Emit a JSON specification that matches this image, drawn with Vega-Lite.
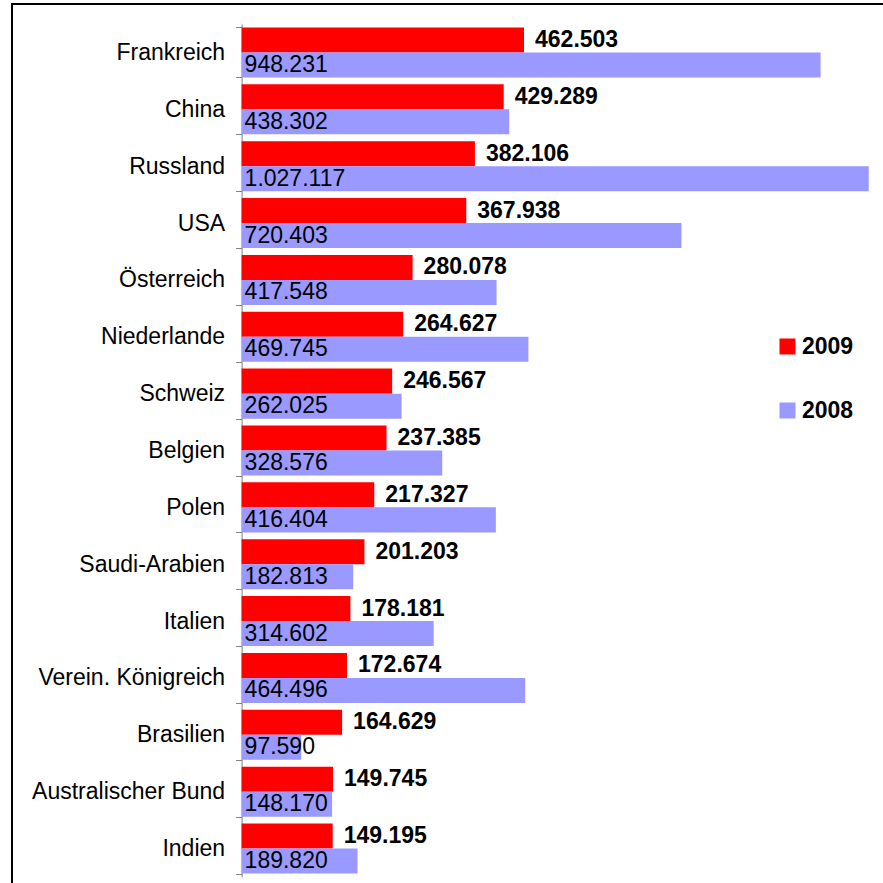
{
  "$schema": "https://vega.github.io/schema/vega-lite/v6.json",
  "width": 880,
  "height": 890,
  "autosize": {"type": "none"},
  "padding": {"left": 12, "top": 4, "right": 0, "bottom": 0},
  "config": {
    "locale": {"number": {"decimal": ",", "thousands": ".", "grouping": [3], "currency": ["", " €"]}},
    "view": {"stroke": "#000000", "strokeWidth": 2},
    "font": "Liberation Sans",
    "text": {"font": "Liberation Sans", "color": "#000000"}
  },
  "data": {
    "values": [
      {"country": "Frankreich", "year": "2009", "value": 462503},
      {"country": "Frankreich", "year": "2008", "value": 948231},
      {"country": "China", "year": "2009", "value": 429289},
      {"country": "China", "year": "2008", "value": 438302},
      {"country": "Russland", "year": "2009", "value": 382106},
      {"country": "Russland", "year": "2008", "value": 1027117},
      {"country": "USA", "year": "2009", "value": 367938},
      {"country": "USA", "year": "2008", "value": 720403},
      {"country": "Österreich", "year": "2009", "value": 280078},
      {"country": "Österreich", "year": "2008", "value": 417548},
      {"country": "Niederlande", "year": "2009", "value": 264627},
      {"country": "Niederlande", "year": "2008", "value": 469745},
      {"country": "Schweiz", "year": "2009", "value": 246567},
      {"country": "Schweiz", "year": "2008", "value": 262025},
      {"country": "Belgien", "year": "2009", "value": 237385},
      {"country": "Belgien", "year": "2008", "value": 328576},
      {"country": "Polen", "year": "2009", "value": 217327},
      {"country": "Polen", "year": "2008", "value": 416404},
      {"country": "Saudi-Arabien", "year": "2009", "value": 201203},
      {"country": "Saudi-Arabien", "year": "2008", "value": 182813},
      {"country": "Italien", "year": "2009", "value": 178181},
      {"country": "Italien", "year": "2008", "value": 314602},
      {"country": "Verein. Königreich", "year": "2009", "value": 172674},
      {"country": "Verein. Königreich", "year": "2008", "value": 464496},
      {"country": "Brasilien", "year": "2009", "value": 164629},
      {"country": "Brasilien", "year": "2008", "value": 97590},
      {"country": "Australischer Bund", "year": "2009", "value": 149745},
      {"country": "Australischer Bund", "year": "2008", "value": 148170},
      {"country": "Indien", "year": "2009", "value": 149195},
      {"country": "Indien", "year": "2008", "value": 189820}
    ]
  },
  "encoding": {
    "y": {
      "field": "country",
      "type": "nominal",
      "sort": null,
      "scale": {"range": [20, 873], "paddingInner": 0.12, "paddingOuter": 0.06},
      "axis": {
        "title": null,
        "offset": -229.6,
        "tickBand": "extent",
        "tickSize": 6,
        "tickColor": "#808080",
        "domainColor": "#808080",
        "labelFontSize": 23,
        "labelColor": "#000000",
        "labelFont": "Liberation Sans",
        "labelPadding": 11,
        "labelLimit": 400
      }
    },
    "yOffset": {
      "field": "year",
      "type": "nominal",
      "sort": ["2009", "2008"],
      "scale": {"domain": ["2009", "2008"], "paddingInner": 0, "paddingOuter": 0}
    }
  },
  "layer": [
    {
      "mark": {"type": "bar"},
      "encoding": {
        "x": {
          "field": "value",
          "type": "quantitative",
          "scale": {"domain": [-376036, 1065200], "nice": false, "zero": false},
          "axis": null
        },
        "color": {
          "field": "year",
          "type": "nominal",
          "scale": {"domain": ["2009", "2008"], "range": ["#FF0000", "#9999FF"]},
          "legend": {
            "orient": "none",
            "legendX": 764,
            "legendY": 331,
            "title": null,
            "symbolType": "square",
            "symbolSize": 256,
            "symbolStrokeWidth": 0,
            "labelFontSize": 23,
            "labelFontWeight": "bold",
            "labelFont": "Liberation Sans",
            "labelColor": "#000000",
            "labelOffset": 3,
            "rowPadding": 40
          }
        }
      }
    },
    {
      "transform": [{"filter": "datum.year == '2009'"}],
      "mark": {"type": "text", "align": "left", "dx": 11, "fontWeight": "bold", "fontSize": 23},
      "encoding": {
        "x": {"field": "value", "type": "quantitative"},
        "text": {"field": "value", "type": "quantitative", "format": ",d"}
      }
    },
    {
      "transform": [{"filter": "datum.year == '2008'"}],
      "mark": {"type": "text", "align": "left", "dx": 3, "fontSize": 23},
      "encoding": {
        "x": {"datum": 0, "type": "quantitative"},
        "text": {"field": "value", "type": "quantitative", "format": ",d"}
      }
    }
  ]
}
